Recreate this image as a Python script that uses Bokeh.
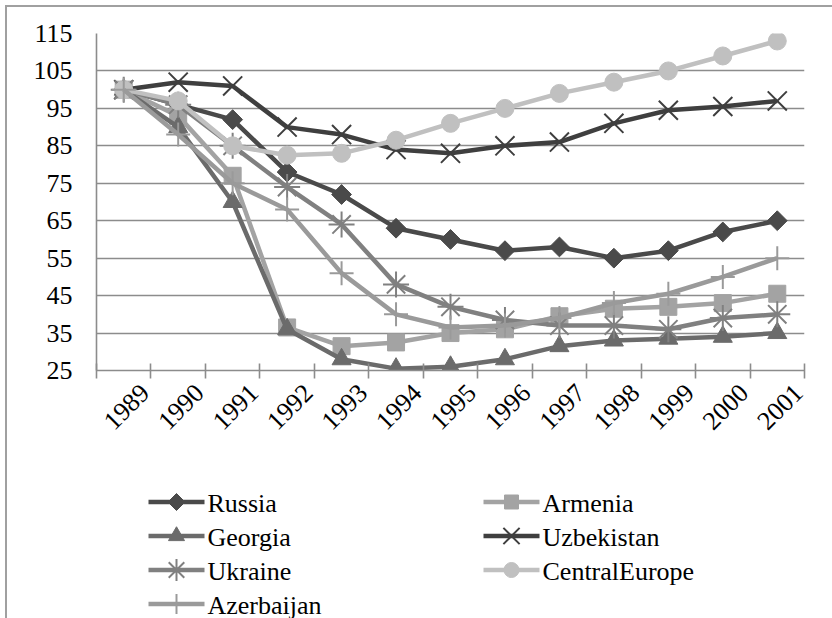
from math import pi
from bokeh.plotting import figure
from bokeh.layouts import column
from bokeh.models import Range1d, FixedTicker
from bokeh.core.properties import value
from bokeh.embed import file_html
from bokeh.resources import INLINE

years = ["1989", "1990", "1991", "1992", "1993", "1994", "1995",
         "1996", "1997", "1998", "1999", "2000", "2001"]
russia = [100, 96, 92, 78, 72, 63, 60, 57, 58, 55, 57, 62, 65]
armenia = [100, 93, 77, 36.5, 31.5, 32.5, 35, 36, 39.5, 41.5, 42, 43, 45.5]
georgia = [100, 90, 70, 36, 28, 25.5, 26, 28, 31.5, 33, 33.5, 34, 35]
uzbekistan = [100, 102, 101, 90, 88, 84, 83, 85, 86, 91, 94.5, 95.5, 97]
ukraine = [100, 96, 85, 74, 64, 48, 42, 38.5, 37, 37, 36, 39, 40]
central_europe = [100, 97, 85, 82.5, 83, 86.5, 91, 95, 99, 102, 105, 109, 113]
azerbaijan = [100, 88, 75, 68, 51, 40, 36.5, 37, 39, 43, 45.5, 50, 55]
y_ticks = [25, 35, 45, 55, 65, 75, 85, 95, 105, 115]

# name, values, colour, marker, size, angle
series = [
    ("Russia", russia, "#4a4a4a", "square", 14, pi / 4),
    ("Armenia", armenia, "#a3a3a3", "square", 17, 0),
    ("Georgia", georgia, "#6b6b6b", "triangle", 19, 0),
    ("Uzbekistan", uzbekistan, "#3f3f3f", "x", 27, 0),
    ("Ukraine", ukraine, "#808080", "asterisk", 26, 0),
    ("CentralEurope", central_europe, "#c0c0c0", "circle", 18, 0),
    ("Azerbaijan", azerbaijan, "#9a9a9a", "cross", 24, 0),
]

n = len(years)
xs = [i + 0.5 for i in range(n)]
FONT = "Liberation Serif"
FS = "26px"
GRID = "#8c8c8c"

def marker_kw(color, marker, size, ang):
    if marker in ("x", "asterisk", "cross"):
        return dict(marker=marker, size=size, line_color=color, line_width=2,
                    fill_color=None)
    return dict(marker=marker, size=size, angle=ang, line_color=color,
                fill_color=color)

p = figure(width=825, height=443, output_backend="svg", toolbar_location=None,
           x_range=Range1d(0, n), y_range=Range1d(25, 115),
           min_border_left=89, min_border_right=28, min_border_top=26,
           min_border_bottom=80)
p.outline_line_color = None
p.xgrid.visible = False
p.ygrid.ticker = FixedTicker(ticks=y_ticks)
p.ygrid.grid_line_color = GRID
p.ygrid.grid_line_width = 1.6

yax = p.yaxis[0]
yax.ticker = FixedTicker(ticks=y_ticks)
yax.axis_line_color = GRID
yax.axis_line_width = 1.6
yax.major_tick_line_color = None
yax.major_tick_in = 0
yax.major_tick_out = 0
yax.minor_tick_line_color = None
yax.major_label_standoff = 24
yax.major_label_text_font = FONT
yax.major_label_text_font_size = FS
yax.major_label_text_color = "black"

off = 0.39
label_pos = [i + 0.5 + off for i in range(n)]
xax = p.xaxis[0]
xax.ticker = FixedTicker(ticks=label_pos, minor_ticks=list(range(n + 1)))
xax.major_label_overrides = {pos: yr for pos, yr in zip(label_pos, years)}
xax.major_label_orientation = pi / 4
xax.axis_line_color = GRID
xax.axis_line_width = 1.6
xax.major_tick_line_color = None
xax.major_tick_in = 0
xax.major_tick_out = 0
xax.minor_tick_line_color = GRID
xax.minor_tick_line_width = 1.6
xax.minor_tick_in = 7
xax.minor_tick_out = 8
xax.major_label_standoff = 10
xax.major_label_text_font = FONT
xax.major_label_text_font_size = FS
xax.major_label_text_color = "black"

for name, vals, color, marker, size, ang in series:
    p.line(xs, vals, line_color=color, line_width=4.5, line_join="round")
    p.scatter(xs, vals, **marker_kw(color, marker, size, ang))

# legend panel: a second canvas whose frame is aligned with the chart's frame;
# its ranges are set in page pixels (y downwards)
q = figure(width=825, height=168, output_backend="svg", toolbar_location=None,
           x_axis_location=None, y_axis_location=None,
           x_range=Range1d(96, 804), y_range=Range1d(618, 450),
           min_border=0, min_border_left=0, min_border_right=0,
           min_border_top=0, min_border_bottom=0)
q.grid.visible = False
q.outline_line_color = None

legend_cols = [["Russia", "Georgia", "Ukraine", "Azerbaijan"],
               ["Armenia", "Uzbekistan", "CentralEurope"]]
col_left = [148, 483]
swatch_w = 56
row_h = 34
first_row = 501.5
lookup = {s[0]: s for s in series}
for ci, names in enumerate(legend_cols):
    x0 = col_left[ci]
    for ri, name in enumerate(names):
        _, _, color, marker, size, ang = lookup[name]
        yy = first_row + ri * row_h
        q.line([x0, x0 + swatch_w], [yy, yy], line_color=color, line_width=4.5)
        q.scatter([x0 + swatch_w / 2], [yy],
                  **marker_kw(color, marker, round(size * 0.85), ang))
        q.text([x0 + swatch_w + 3], [yy + 1], text=[name],
               text_font=value(FONT), text_font_size=FS, text_color="black",
               text_align="left", text_baseline="middle")

layout = column(p, q, spacing=0,
                styles={"margin-left": "5px", "margin-top": "5px",
                        "border-left": "2px solid #a0a0a0",
                        "border-top": "2px solid #a0a0a0"})

open("out.html", "w").write(file_html(layout, INLINE))
